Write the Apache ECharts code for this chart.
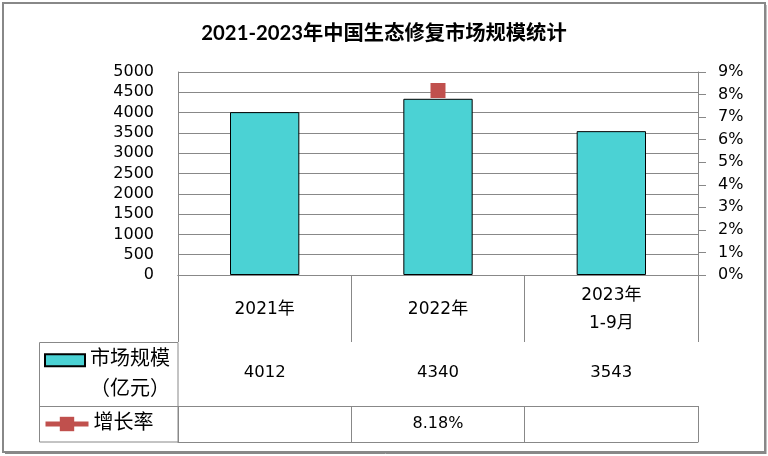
<!DOCTYPE html>
<html>
<head>
<meta charset="utf-8">
<script src="https://cdn.jsdelivr.net/npm/echarts@6/dist/echarts.min.js"></script>
<style>html,body{margin:0;padding:0;background:#fff;}#c{width:768px;height:456px;}</style>
</head>
<body>
<div id="c"></div>
<script>
var categories = ['2021年', '2022年', '2023年\n1-9月'];
var marketSize = [4012, 4340, 3543];
var growthRate = [null, 8.18, null];
var leftTicks = { min: 0, max: 5000, interval: 500 };
var rightTicks = { min: 0, max: 9, interval: 1 };
var seriesNames = ['市场规模（亿元）', '增长率'];
var titleText = '2021-2023年中国生态修复市场规模统计';

var FONT = "'DejaVu Sans', 'Noto Sans CJK SC', sans-serif";
var GRAY = '#888888';

var chart = echarts.init(document.getElementById('c'), null, { renderer: 'canvas' });
var option = {
  backgroundColor: '#ffffff',
  animation: false,
  title: {
    text: titleText,
    left: 'center',
    top: 23,
    padding: 0,
    textStyle: { fontFamily: "Lato, 'Noto Sans CJK SC', sans-serif", fontWeight: 'bold', fontSize: 20.3, color: '#000' }
  },
  legend: [
    {
      data: [seriesNames[0]],
      orient: 'vertical',
      left: 44,
      top: 316,
      padding: 0,
      itemWidth: 40,
      itemHeight: 12,
      icon: 'rect',
      selectedMode: false,
      formatter: function () { return '\n市场规模\n（亿元）'; },
      textStyle: { fontFamily: FONT, fontSize: 20, lineHeight: 29.5, color: '#000' }
    },
    {
      data: [seriesNames[1]],
      orient: 'vertical',
      left: 43,
      top: 414,
      padding: 0,
      itemWidth: 43,
      itemHeight: 18,
      selectedMode: false,
      lineStyle: { width: 5 },
      textStyle: { fontFamily: FONT, fontSize: 20, color: '#000' }
    }
  ],
  grid: { left: 178, right: 70, top: 72, bottom: 181, containLabel: false },
  xAxis: [
    {
      type: 'category',
      data: categories,
      position: 'bottom',
      axisLine: { show: true, lineStyle: { color: GRAY, width: 1 } },
      axisTick: { show: true, length: 67, interval: 0, lineStyle: { color: GRAY } },
      axisLabel: { interval: 0, margin: 35, verticalAlign: 'middle', lineHeight: 28, fontFamily: FONT, fontSize: 17, color: '#000' },
      splitLine: { show: false }
    },
    {
      type: 'category',
      data: categories,
      position: 'bottom',
      offset: 67,
      axisLine: { show: true, lineStyle: { color: GRAY, width: 1 } },
      axisTick: { show: true, length: 64, interval: 0, lineStyle: { color: GRAY } },
      axisLabel: { interval: 0, margin: 31, verticalAlign: 'middle', fontFamily: FONT, fontSize: 16.5, color: '#000',
        formatter: function (v, i) { return String(marketSize[i]); } },
      splitLine: { show: false }
    },
    {
      type: 'category',
      data: categories,
      position: 'bottom',
      offset: 131,
      axisLine: { show: true, lineStyle: { color: GRAY, width: 1 } },
      axisTick: { show: true, length: 36, interval: 0, lineStyle: { color: GRAY } },
      axisLabel: { interval: 0, margin: 18, verticalAlign: 'middle', fontFamily: FONT, fontSize: 16, color: '#000',
        formatter: function (v, i) { return growthRate[i] == null ? '' : growthRate[i].toFixed(2) + '%'; } },
      splitLine: { show: false }
    },
    {
      type: 'category',
      data: categories,
      position: 'bottom',
      offset: 167,
      axisLine: { show: true, lineStyle: { color: GRAY, width: 1 } },
      axisTick: { show: false },
      axisLabel: { show: false },
      splitLine: { show: false }
    }
  ],
  yAxis: [
    {
      type: 'value',
      min: leftTicks.min, max: leftTicks.max, interval: leftTicks.interval,
      axisLine: { show: true, lineStyle: { color: GRAY } },
      axisTick: { show: false },
      axisLabel: { margin: 24, fontFamily: FONT, fontSize: 16, color: '#000', formatter: function (v) { return String(v); } },
      splitLine: { show: true, lineStyle: { color: GRAY, width: 1 } }
    },
    {
      type: 'value',
      position: 'right',
      min: rightTicks.min, max: rightTicks.max, interval: rightTicks.interval,
      axisLine: { show: true, lineStyle: { color: GRAY } },
      axisTick: { show: true, inside: false, length: 8, lineStyle: { color: GRAY } },
      axisLabel: { margin: 20, fontFamily: FONT, fontSize: 16, color: '#000', formatter: function (v) { return v + '%'; } },
      splitLine: { show: false }
    }
  ],
  series: [
    {
      name: seriesNames[0],
      type: 'bar',
      xAxisIndex: 0,
      yAxisIndex: 0,
      data: marketSize,
      barWidth: '40%',
      itemStyle: { color: '#4BD2D4', borderColor: '#000', borderWidth: 1 }
    },
    {
      name: seriesNames[1],
      type: 'line',
      xAxisIndex: 0,
      yAxisIndex: 1,
      data: growthRate,
      symbol: 'rect',
      symbolSize: 15,
      connectNulls: false,
      itemStyle: { color: '#C0504D' },
      lineStyle: { color: '#C0504D', width: 5 }
    }
  ],
  graphic: [
    { type: 'rect', shape: { x: 3, y: 3, width: 762, height: 449 }, style: { fill: 'none', stroke: GRAY, lineWidth: 2 }, silent: true },
    { type: 'line', shape: { x1: 766, y1: 5, x2: 766, y2: 454 }, style: { stroke: GRAY, lineWidth: 1 }, silent: true },
    { type: 'line', shape: { x1: 5, y1: 453.5, x2: 766, y2: 453.5 }, style: { stroke: GRAY, lineWidth: 1 }, silent: true },
    { type: 'rect', shape: { x: 39.5, y: 342.5, width: 138.5, height: 99.5 }, style: { fill: 'none', stroke: GRAY, lineWidth: 1 }, silent: true },
    { type: 'line', shape: { x1: 39.5, y1: 406.5, x2: 178, y2: 406.5 }, style: { stroke: GRAY, lineWidth: 1 }, silent: true }
  ]
};
chart.setOption(option);
</script>
</body>
</html>
